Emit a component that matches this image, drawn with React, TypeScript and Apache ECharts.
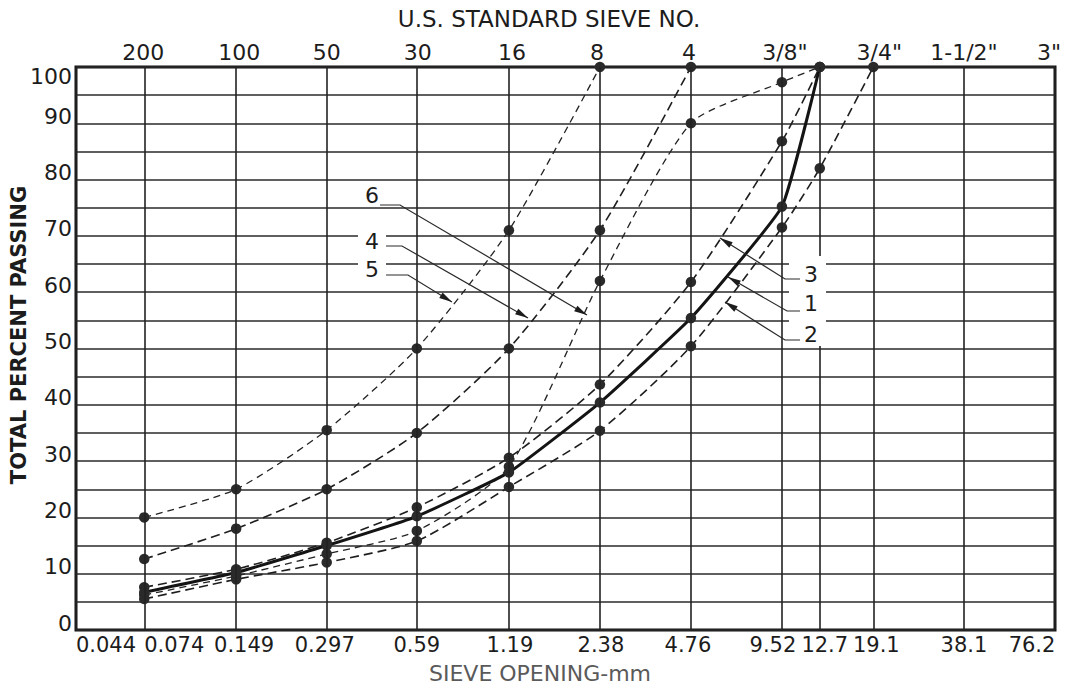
import React, { useEffect, useRef } from "react";
import * as echarts from "echarts";

// ---- data ----
const sieveMm = [0.074, 0.149, 0.297, 0.59, 1.19, 2.38, 4.76, 9.52, 12.7, 19.1];
const curve1 = [6.7, 10.2, 15, 20.2, 28, 40.4, 55.4, 75.2, 100];
const curve2 = [5.5, 9, 12, 15.8, 25.4, 35.4, 50.4, 71.5, 82, 100];
const curve3 = [7.6, 10.8, 15.5, 21.8, 30.6, 43.6, 61.8, 86.8, 100];
const curve4 = [12.6, 18, 25, 35, 50, 71, 100];
const curve5 = [20, 25, 35.5, 50, 71, 100];
const curve6 = [6.2, 9.6, 13.5, 17.6, 29, 62, 90, 97.3, 100];

const gridSizes = [0.044, 0.074, 0.149, 0.297, 0.59, 1.19, 2.38, 4.76, 9.52, 12.7, 19.1, 38.1, 76.2];
const mmLabels = ["0.044", "0.074", "0.149", "0.297", "0.59", "1.19", "2.38", "4.76", "9.52", "12.7", "19.1", "38.1", "76.2"];
const sieveNoLabels = ["", "200", "100", "50", "30", "16", "8", "4", '3/8"', "", '3/4"', '1-1/2"', '3"'];

// ---- layout / style ----
const FONT = '"DejaVu Sans", "Liberation Sans", sans-serif';
const INK = "#1c1c1c";
const bottomNudge = [30, 30, 8, -2, 0, 1, 1, -3, -9, 5, 3, 0, -23];
const topNudge = [0, -1, 3, 0, 1, 3, -3, -2, 3, 0, 6, 0, -6];

function nudgePad(n: number): number[] {
  return n >= 0 ? [0, 0, 0, 2 * n] : [0, -2 * n, 0, 0];
}

function pts(ys: number[]) {
  return ys.map((y, i) => [sieveMm[i], y]);
}

type Pt = [number, number];
const notes: { text: string; at: Pt; leader: Pt[]; box: boolean }[] = [
  { text: "6", at: [372, 195], leader: [[380, 205], [400, 205], [587, 315]], box: false },
  { text: "4", at: [372, 241], leader: [[385, 246], [402, 246], [528, 318]], box: true },
  { text: "5", at: [372, 269], leader: [[385, 275], [408, 275], [452, 302]], box: true },
  { text: "3", at: [811, 274], leader: [[800, 279], [785, 279], [720, 238]], box: false },
  { text: "1", at: [811, 303], leader: [[800, 311], [787, 311], [728, 277]], box: false },
  { text: "2", at: [811, 334], leader: [[800, 340], [785, 340], [725, 302]], box: false },
];

function arrowHead(from: Pt, tip: Pt, len = 13, half = 3.2): Pt[] {
  const dx = tip[0] - from[0];
  const dy = tip[1] - from[1];
  const L = Math.hypot(dx, dy);
  const ux = dx / L;
  const uy = dy / L;
  const bx = tip[0] - ux * len;
  const by = tip[1] - uy * len;
  return [
    [tip[0], tip[1]],
    [bx - uy * half, by + ux * half],
    [bx + uy * half, by - ux * half],
  ];
}

function curveSeries(name: string, ys: number[], kind: "solid" | "dash" | "fine") {
  const lineStyle =
    kind === "solid"
      ? { color: "#141414", width: 3, type: "solid" }
      : kind === "dash"
      ? { color: "#1e1e1e", width: 1.6, type: [9, 5] }
      : { color: "#222", width: 1.3, type: [7, 5] };
  return {
    type: "line",
    name,
    data: pts(ys),
    smooth: kind === "solid" ? 0.12 : 0.22,
    symbol: "circle",
    symbolSize: 10.5,
    clip: false,
    z: 4,
    itemStyle: { color: "#2a2a2a" },
    lineStyle,
    emphasis: { disabled: true },
  };
}

function edgeLabel(text: string, nudge: number, position: "start" | "end", size: number) {
  return {
    show: true,
    position,
    distance: 4,
    formatter: `{p|${text}}`,
    rich: {
      p: { fontSize: size, fontFamily: FONT, color: INK, padding: nudgePad(nudge) },
    },
  };
}

function buildOption() {
  const lineData: any[] = [];
  gridSizes.forEach((s, i) => {
    lineData.push([
      { coord: [s, 0], label: edgeLabel(mmLabels[i], bottomNudge[i], "start", 21) },
      { coord: [s, 100] },
    ]);
    if (sieveNoLabels[i]) {
      lineData.push([
        {
          coord: [s, 0],
          lineStyle: { color: "rgba(0,0,0,0)", width: 0 },
          label: edgeLabel(sieveNoLabels[i], topNudge[i], "end", 22),
        },
        { coord: [s, 100] },
      ]);
    }
  });

  const graphics: any[] = [
    {
      type: "text",
      x: 549,
      y: 19,
      z: 60,
      style: { text: "U.S. STANDARD SIEVE NO.", fontSize: 23, fontFamily: FONT, fill: INK, align: "center", verticalAlign: "middle" },
    },
    {
      type: "text",
      x: 540,
      y: 673,
      z: 60,
      style: { text: "SIEVE OPENING-mm", fontSize: 22, fontFamily: FONT, fill: "#5a5a5a", align: "center", verticalAlign: "middle" },
    },
    {
      type: "text",
      x: 19,
      y: 335,
      rotation: Math.PI / 2,
      z: 60,
      style: { text: "TOTAL PERCENT PASSING", fontSize: 21, fontWeight: "bold", fontFamily: FONT, fill: INK, align: "center", verticalAlign: "middle" },
    },
    { type: "rect", z: 50, shape: { x: 789, y: 256, width: 37, height: 90 }, style: { fill: "#fff" } },
  ];
  notes.forEach((n) => {
    const L = n.leader;
    graphics.push({
      type: "polyline",
      z: 55,
      shape: { points: L },
      style: { stroke: "#2a2a2a", lineWidth: 1.2, fill: null },
    });
    graphics.push({
      type: "polygon",
      z: 55,
      shape: { points: arrowHead(L[L.length - 2], L[L.length - 1]) },
      style: { fill: "#1c1c1c" },
    });
    graphics.push({
      type: "text",
      x: n.at[0],
      y: n.at[1],
      z: 56,
      style: {
        text: n.text,
        fontSize: 22,
        fontFamily: FONT,
        fill: INK,
        align: "center",
        verticalAlign: "middle",
        backgroundColor: n.box ? "#fff" : undefined,
        padding: n.box ? [1, 7] : 0,
      },
    });
  });

  return {
    animation: false,
    backgroundColor: "#fff",
    grid: {
      left: 76,
      right: 15,
      top: 67,
      bottom: 58,
      show: true,
      borderColor: "#111",
      borderWidth: 3,
      outerBoundsMode: "none",
    },
    xAxis: {
      type: "log",
      logBase: 10,
      min: 0.044,
      max: 76.2,
      axisLine: { show: false },
      axisTick: { show: false },
      axisLabel: { show: false },
      splitLine: { show: false },
      minorTick: { show: false },
      minorSplitLine: { show: false },
    },
    yAxis: {
      type: "value",
      min: 0,
      max: 100,
      interval: 5,
      axisLine: { show: false },
      axisTick: { show: false },
      splitLine: { show: true, lineStyle: { color: "#2a2a2a", width: 1.5 } },
      axisLabel: {
        margin: 4,
        formatter: (v: number) => (v % 10 ? "" : v === 100 ? "{t|100}" : `{n|${v}}`),
        rich: {
          n: { fontSize: 22, fontFamily: FONT, color: INK, padding: [0, 0, 14, 0] },
          t: { fontSize: 22, fontFamily: FONT, color: INK, padding: [18, 0, 0, 0] },
        },
      },
    },
    graphic: graphics,
    series: [
      {
        type: "line",
        data: [],
        silent: true,
        z: 1,
        markLine: {
          silent: true,
          symbol: ["none", "none"],
          animation: false,
          lineStyle: { color: "#222", width: 1.6, type: "solid" },
          label: { fontSize: 22, fontFamily: FONT, color: INK },
          emphasis: { disabled: true },
          data: lineData,
        },
      },
      curveSeries("5", curve5, "fine"),
      curveSeries("4", curve4, "dash"),
      curveSeries("6", curve6, "fine"),
      curveSeries("3", curve3, "dash"),
      curveSeries("2", curve2, "dash"),
      curveSeries("1", curve1, "solid"),
    ],
  };
}

export default function App() {
  const ref = useRef<HTMLDivElement>(null);
  useEffect(() => {
    const chart = echarts.init(ref.current!, null, { renderer: "svg" });
    chart.setOption(buildOption() as any);
    return () => chart.dispose();
  }, []);
  return (
    <div
      ref={ref}
      style={{ position: "absolute", left: 0, top: 0, width: 1070, height: 688, background: "#fff" }}
    />
  );
}
